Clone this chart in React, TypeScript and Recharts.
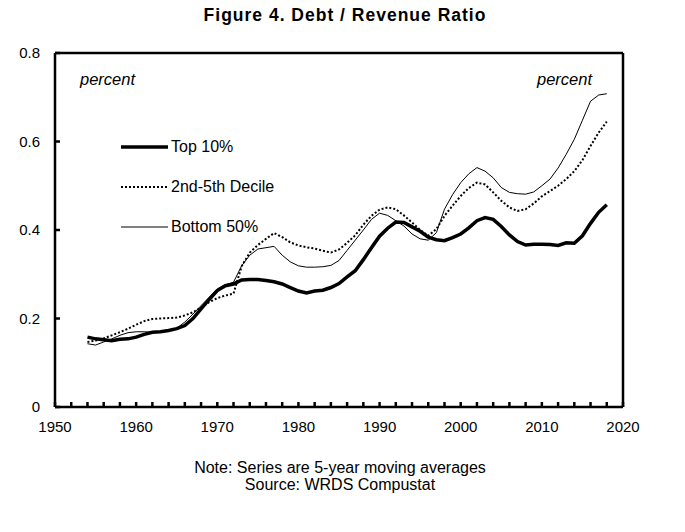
import React from 'react';
import {
  LineChart,
  Line,
  XAxis,
  YAxis,
  ReferenceLine,
} from 'recharts';

// years 1954..2018, values (5-yr moving averages)
const years = [
  1954, 1955, 1956, 1957, 1958, 1959, 1960, 1961, 1962, 1963, 1964, 1965, 1966,
  1967, 1968, 1969, 1970, 1971, 1972, 1973, 1974, 1975, 1976, 1977, 1978, 1979,
  1980, 1981, 1982, 1983, 1984, 1985, 1986, 1987, 1988, 1989, 1990, 1991, 1992,
  1993, 1994, 1995, 1996, 1997, 1998, 1999, 2000, 2001, 2002, 2003, 2004, 2005,
  2006, 2007, 2008, 2009, 2010, 2011, 2012, 2013, 2014, 2015, 2016, 2017, 2018,
];

const top10 = [
  0.158, 0.154, 0.152, 0.15, 0.153, 0.154, 0.158, 0.164, 0.169, 0.17, 0.173, 0.177, 0.184,
  0.2, 0.222, 0.243, 0.263, 0.274, 0.278, 0.287, 0.288, 0.288, 0.286, 0.283, 0.278, 0.27,
  0.262, 0.258, 0.262, 0.264, 0.27, 0.279, 0.294, 0.308, 0.333, 0.36, 0.386, 0.404, 0.418,
  0.417, 0.407, 0.397, 0.384, 0.378, 0.376, 0.383, 0.391, 0.405, 0.421, 0.428, 0.424, 0.408,
  0.389, 0.374, 0.366, 0.368, 0.368, 0.367, 0.365, 0.371, 0.37, 0.387, 0.415, 0.44, 0.457,
];

const decile2to5 = [
  0.147, 0.15, 0.155, 0.162, 0.169, 0.177, 0.186, 0.194, 0.199, 0.2, 0.201, 0.202, 0.207,
  0.214, 0.225, 0.237, 0.246, 0.252, 0.256, 0.318, 0.349, 0.366, 0.38, 0.393, 0.384, 0.372,
  0.365, 0.361, 0.358, 0.353, 0.349, 0.356, 0.371, 0.388, 0.412, 0.432, 0.446, 0.451, 0.447,
  0.433, 0.417, 0.4, 0.387, 0.402, 0.432, 0.455, 0.477, 0.495, 0.507, 0.503, 0.485, 0.466,
  0.451, 0.443, 0.447, 0.46, 0.476, 0.488, 0.5, 0.515, 0.533, 0.558, 0.59, 0.62, 0.645,
];

const bottom50 = [
  0.143, 0.14, 0.147, 0.154, 0.162, 0.168, 0.17, 0.17, 0.169, 0.171, 0.174, 0.178, 0.192,
  0.21, 0.229, 0.248, 0.267, 0.276, 0.282, 0.319, 0.343, 0.357, 0.36, 0.363, 0.343, 0.328,
  0.319, 0.316, 0.316, 0.317, 0.32, 0.331, 0.354, 0.377, 0.4, 0.424, 0.438, 0.433, 0.421,
  0.409, 0.391, 0.38, 0.377, 0.394, 0.447, 0.48, 0.507, 0.527, 0.541, 0.533, 0.518, 0.496,
  0.485, 0.482, 0.481, 0.486, 0.5, 0.515, 0.54, 0.571, 0.605, 0.648, 0.691, 0.705, 0.708,
];

const xTicks = [
  1950, 1952, 1954, 1956, 1958, 1960, 1962, 1964, 1966, 1968, 1970, 1972, 1974, 1976,
  1978, 1980, 1982, 1984, 1986, 1988, 1990, 1992, 1994, 1996, 1998, 2000, 2002, 2004,
  2006, 2008, 2010, 2012, 2014, 2016, 2018, 2020,
];
const yTicks = [0, 0.2, 0.4, 0.6, 0.8];

const data = years.map((year, i) => ({
  year,
  top10: top10[i],
  decile: decile2to5[i],
  bottom: bottom50[i],
}));

const FONT = '"Liberation Sans", Arial, sans-serif';

const series = [
  { key: 'top10', name: 'Top 10%', width: 3.5, dash: undefined },
  { key: 'decile', name: '2nd-5th Decile', width: 2, dash: '2 2' },
  { key: 'bottom', name: 'Bottom 50%', width: 1, dash: undefined },
];

const fmtY = (v: number) => (v === 0 ? '0' : v.toFixed(1));
const fmtX = (v: number) => (v % 10 === 0 ? String(v) : '');

const LegendBox = () => (
  <div
    style={{
      position: 'absolute',
      left: 118,
      top: 127,
      fontFamily: FONT,
      fontSize: 16,
      color: '#000',
    }}
  >
    {series.map((s) => (
      <div key={s.key} style={{ display: 'flex', alignItems: 'center', height: 40 }}>
        <svg width={50} height={10}>
          <line
            x1={3}
            y1={5}
            x2={50}
            y2={5}
            stroke="#000"
            strokeWidth={s.width}
            strokeDasharray={s.dash}
          />
        </svg>
        <span style={{ marginLeft: 3 }}>{s.name}</span>
      </div>
    ))}
  </div>
);

export default function App() {
  const tickStyle = { fontSize: 15, fill: '#000', fontFamily: FONT };
  return (
    <div
      style={{
        position: 'absolute',
        left: 0,
        top: 0,
        width: 685,
        height: 532,
        background: '#fff',
        fontFamily: FONT,
      }}
    >
      <div
        style={{
          position: 'absolute',
          left: 0,
          width: 690,
          top: 5,
          textAlign: 'center',
          fontWeight: 'bold',
          fontSize: 17.5,
          letterSpacing: 1,
        }}
      >
        Figure 4. Debt / Revenue Ratio
      </div>

      <LineChart
        width={685}
        height={532}
        data={data}
        margin={{ top: 53, left: 10, right: 17, bottom: 95 }}
      >
        <XAxis
          dataKey="year"
          type="number"
          domain={[1950, 2020]}
          ticks={xTicks}
          interval={0}
          tickFormatter={fmtX}
          tick={tickStyle}
          tickSize={-5}
          tickMargin={19}
          height={30}
          stroke="#000"
          axisLine={{ strokeWidth: 2.5 }}
          tickLine={{ strokeWidth: 2.5 }}
        />
        <YAxis
          yAxisId="left"
          domain={[0, 0.8]}
          ticks={yTicks}
          tickFormatter={fmtY}
          tick={tickStyle}
          tickSize={-5}
          tickMargin={20}
          width={45}
          stroke="#000"
          axisLine={{ strokeWidth: 2.5 }}
          tickLine={{ strokeWidth: 2.5 }}
        />
        <YAxis
          yAxisId="right"
          orientation="right"
          domain={[0, 0.8]}
          ticks={yTicks}
          tickFormatter={fmtY}
          tick={tickStyle}
          tickSize={-5}
          tickMargin={19}
          width={45}
          stroke="#000"
          axisLine={{ strokeWidth: 2.5 }}
          tickLine={{ strokeWidth: 2.5 }}
        />
        <ReferenceLine yAxisId="left" y={0.8} stroke="#000" strokeWidth={2.5} />
        {series.map((s) => (
          <Line
            key={s.key}
            yAxisId="left"
            dataKey={s.key}
            name={s.name}
            type="linear"
            stroke="#000"
            strokeWidth={s.width}
            strokeDasharray={s.dash}
            dot={false}
            isAnimationActive={false}
          />
        ))}
      </LineChart>

      <LegendBox />

      <div style={{ position: 'absolute', left: 80, top: 70, fontStyle: 'italic', fontSize: 16.5 }}>
        percent
      </div>
      <div style={{ position: 'absolute', left: 537, top: 70, fontStyle: 'italic', fontSize: 16.5 }}>
        percent
      </div>

      <div
        style={{
          position: 'absolute',
          left: 0,
          width: 680,
          top: 459,
          textAlign: 'center',
          fontSize: 16,
          lineHeight: '17px',
        }}
      >
        Note: Series are 5-year moving averages
        <br />
        Source: WRDS Compustat
      </div>
    </div>
  );
}
